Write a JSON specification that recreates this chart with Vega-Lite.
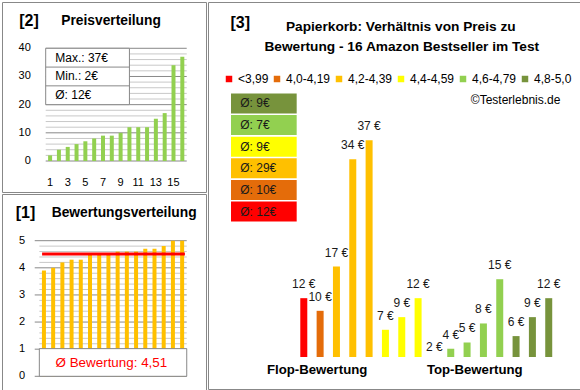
{
  "$schema": "https://vega.github.io/schema/vega-lite/v6.json",
  "padding": {"left": 1, "top": 1, "right": 1, "bottom": 1},
  "background": "white",
  "spacing": 0,
  "config": {
    "font": "Liberation Sans",
    "view": {"stroke": "#888888", "strokeWidth": 1},
    "text": {"font": "Liberation Sans", "color": "#000000"}
  },
  "datasets": {
    "products": [
      {"pos": 1, "cat": "<3,99", "price": 12, "rating": 3.9, "price_label": "12 €"},
      {"pos": 2, "cat": "4,0-4,19", "price": 10, "rating": 4.0, "price_label": "10 €"},
      {"pos": 3, "cat": "4,2-4,39", "price": 17, "rating": 4.2, "price_label": "17 €"},
      {"pos": 4, "cat": "4,2-4,39", "price": 34, "rating": 4.3, "price_label": "34 €"},
      {"pos": 5, "cat": "4,2-4,39", "price": 37, "rating": 4.3, "price_label": "37 €"},
      {"pos": 6, "cat": "4,4-4,59", "price": 7, "rating": 4.5, "price_label": "7 €"},
      {"pos": 7, "cat": "4,4-4,59", "price": 9, "rating": 4.5, "price_label": "9 €"},
      {"pos": 8, "cat": "4,4-4,59", "price": 12, "rating": 4.5, "price_label": "12 €"},
      {"pos": 9, "cat": "4,6-4,79", "price": 2, "rating": 4.6, "price_label": "2 €"},
      {"pos": 10, "cat": "4,6-4,79", "price": 4, "rating": 4.6, "price_label": "4 €"},
      {"pos": 11, "cat": "4,6-4,79", "price": 5, "rating": 4.6, "price_label": "5 €"},
      {"pos": 12, "cat": "4,6-4,79", "price": 8, "rating": 4.7, "price_label": "8 €"},
      {"pos": 13, "cat": "4,6-4,79", "price": 15, "rating": 4.7, "price_label": "15 €"},
      {"pos": 14, "cat": "4,8-5,0", "price": 6, "rating": 4.8, "price_label": "6 €"},
      {"pos": 15, "cat": "4,8-5,0", "price": 9, "rating": 5.0, "price_label": "9 €"},
      {"pos": 16, "cat": "4,8-5,0", "price": 12, "rating": 5.0, "price_label": "12 €"}
    ],
    "price_sorted": [
      {"rank": 1, "price": 2}, {"rank": 2, "price": 4}, {"rank": 3, "price": 5}, {"rank": 4, "price": 6},
      {"rank": 5, "price": 7}, {"rank": 6, "price": 8}, {"rank": 7, "price": 9}, {"rank": 8, "price": 9},
      {"rank": 9, "price": 10}, {"rank": 10, "price": 12}, {"rank": 11, "price": 12}, {"rank": 12, "price": 12},
      {"rank": 13, "price": 15}, {"rank": 14, "price": 17}, {"rank": 15, "price": 34}, {"rank": 16, "price": 37}
    ],
    "rating_sorted": [
      {"rank": 1, "rating": 3.9}, {"rank": 2, "rating": 4.0}, {"rank": 3, "rating": 4.2}, {"rank": 4, "rating": 4.3},
      {"rank": 5, "rating": 4.3}, {"rank": 6, "rating": 4.5}, {"rank": 7, "rating": 4.5}, {"rank": 8, "rating": 4.5},
      {"rank": 9, "rating": 4.6}, {"rank": 10, "rating": 4.6}, {"rank": 11, "rating": 4.6}, {"rank": 12, "rating": 4.7},
      {"rank": 13, "rating": 4.7}, {"rank": 14, "rating": 4.8}, {"rank": 15, "rating": 5.0}, {"rank": 16, "rating": 5.0}
    ],
    "grid_price": [
      {"v": 0}, {"v": 2}, {"v": 4}, {"v": 6}, {"v": 8}, {"v": 10}, {"v": 12}, {"v": 14}, {"v": 16}, {"v": 18},
      {"v": 20}, {"v": 22}, {"v": 24}, {"v": 26}, {"v": 28}, {"v": 30}, {"v": 32}, {"v": 34}, {"v": 36}, {"v": 38}, {"v": 40}
    ],
    "grid_rating": [
      {"v": 0}, {"v": 0.2}, {"v": 0.4}, {"v": 0.6}, {"v": 0.8}, {"v": 1}, {"v": 1.2}, {"v": 1.4}, {"v": 1.6}, {"v": 1.8},
      {"v": 2}, {"v": 2.2}, {"v": 2.4}, {"v": 2.6}, {"v": 2.8}, {"v": 3}, {"v": 3.2}, {"v": 3.4}, {"v": 3.6}, {"v": 3.8},
      {"v": 4}, {"v": 4.2}, {"v": 4.4}, {"v": 4.6}, {"v": 4.8}, {"v": 5}
    ],
    "cat_avg": [
      {"order": 1, "cat": "4,8-5,0", "avg_label": "Ø: 9€"},
      {"order": 2, "cat": "4,6-4,79", "avg_label": "Ø: 7€"},
      {"order": 3, "cat": "4,4-4,59", "avg_label": "Ø: 9€"},
      {"order": 4, "cat": "4,2-4,39", "avg_label": "Ø: 29€"},
      {"order": 5, "cat": "4,0-4,19", "avg_label": "Ø: 10€"},
      {"order": 6, "cat": "<3,99", "avg_label": "Ø: 12€"}
    ]
  },
  "hconcat": [
    {
      "spacing": 0,
      "vconcat": [
        {
          "width": 204,
          "height": 190,
          "layer": [
            {
              "data": {"name": "grid_price"},
              "mark": {"type": "rule", "strokeWidth": 1},
              "encoding": {
                "y": {"field": "v", "type": "quantitative", "axis": null},
                "x": {"datum": 0.5, "type": "quantitative", "axis": null},
                "x2": {"datum": 16.5},
                "color": {"condition": {"test": "datum.v % 10 === 0", "value": "#888888"}, "value": "#c8c8c8"}
              }
            },
            {
              "data": {"name": "grid_price"},
              "transform": [{"filter": "datum.v % 10 === 0"}],
              "mark": {"type": "text", "align": "right", "baseline": "middle", "fontSize": 11},
              "encoding": {
                "y": {"field": "v", "type": "quantitative", "axis": null},
                "x": {"datum": -1.193, "type": "quantitative", "axis": null},
                "text": {"field": "v", "type": "quantitative"}
              }
            },
            {
              "data": {"name": "price_sorted"},
              "mark": {"type": "bar", "width": 4, "color": "#92D050"},
              "encoding": {
                "x": {"field": "rank", "type": "quantitative",
                  "scale": {"domain": [-3.89, 18.12], "nice": false, "zero": false}, "axis": null},
                "y": {"field": "price", "type": "quantitative",
                  "scale": {"domain": [-11.0, 56.43], "nice": false, "zero": false}, "axis": null},
                "y2": {"datum": 0}
              }
            },
            {
              "data": {"name": "price_sorted"},
              "transform": [{"filter": "datum.rank % 2 === 1"}],
              "mark": {"type": "text", "align": "center", "baseline": "middle", "fontSize": 11},
              "encoding": {
                "x": {"field": "rank", "type": "quantitative", "axis": null},
                "y": {"datum": -7.71, "type": "quantitative", "axis": null},
                "text": {"field": "rank", "type": "quantitative"}
              }
            },
            {
              "data": {"values": [{}]},
              "mark": {"type": "rect", "fill": "white", "stroke": "#888888", "strokeWidth": 1},
              "encoding": {
                "x": {"datum": 0.5, "type": "quantitative", "axis": null}, "x2": {"datum": 10},
                "y": {"datum": 40, "type": "quantitative", "axis": null}, "y2": {"datum": 20}
              }
            },
            {
              "data": {"values": [{}]},
              "mark": {"type": "rule", "stroke": "#888888", "strokeWidth": 1},
              "encoding": {
                "x": {"datum": 0.5, "type": "quantitative", "axis": null}, "x2": {"datum": 10},
                "y": {"datum": 33.33, "type": "quantitative", "axis": null}
              }
            },
            {
              "data": {"values": [{}]},
              "mark": {"type": "rule", "stroke": "#888888", "strokeWidth": 1},
              "encoding": {
                "x": {"datum": 0.5, "type": "quantitative", "axis": null}, "x2": {"datum": 10},
                "y": {"datum": 26.67, "type": "quantitative", "axis": null}
              }
            },
            {
              "data": {"values": [{}]},
              "mark": {"type": "text", "align": "left", "baseline": "middle", "fontSize": 12},
              "encoding": {
                "x": {"datum": 1.58, "type": "quantitative", "axis": null},
                "y": {"datum": 36.67, "type": "quantitative", "axis": null},
                "text": {"value": "Max.: 37€"}
              }
            },
            {
              "data": {"values": [{}]},
              "mark": {"type": "text", "align": "left", "baseline": "middle", "fontSize": 12},
              "encoding": {
                "x": {"datum": 1.58, "type": "quantitative", "axis": null},
                "y": {"datum": 30, "type": "quantitative", "axis": null},
                "text": {"value": "Min.: 2€"}
              }
            },
            {
              "data": {"values": [{}]},
              "mark": {"type": "text", "align": "left", "baseline": "middle", "fontSize": 12},
              "encoding": {
                "x": {"datum": 1.58, "type": "quantitative", "axis": null},
                "y": {"datum": 23.33, "type": "quantitative", "axis": null},
                "text": {"value": "Ø: 12€"}
              }
            },
            {
              "data": {"values": [{}]},
              "mark": {"type": "text", "align": "center", "baseline": "middle", "fontSize": 16, "fontWeight": "bold"},
              "encoding": {
                "x": {"datum": -1.4, "type": "quantitative", "axis": null},
                "y": {"datum": 49.69, "type": "quantitative", "axis": null},
                "text": {"value": "[2]"}
              }
            },
            {
              "data": {"values": [{}]},
              "mark": {"type": "text", "align": "left", "baseline": "middle", "fontSize": 13.8, "fontWeight": "bold"},
              "encoding": {
                "x": {"datum": 2.26, "type": "quantitative", "axis": null},
                "y": {"datum": 49.69, "type": "quantitative", "axis": null},
                "text": {"value": "Preisverteilung"}
              }
            }
          ]
        },
        {
          "width": 204,
          "height": 197,
          "layer": [
            {
              "data": {"name": "grid_rating"},
              "transform": [{"filter": "datum.v !== round(datum.v)"}],
              "mark": {"type": "rule", "strokeWidth": 1, "stroke": "#c8c8c8"},
              "encoding": {
                "y": {"field": "v", "type": "quantitative", "axis": null},
                "x": {"datum": 0.5, "type": "quantitative", "axis": null},
                "x2": {"datum": 16.5}
              }
            },
            {
              "data": {"name": "grid_rating"},
              "transform": [{"filter": "datum.v === round(datum.v)"}],
              "mark": {"type": "rule", "strokeWidth": 1, "stroke": "#888888"},
              "encoding": {
                "y": {"field": "v", "type": "quantitative", "axis": null},
                "x": {"datum": 0, "type": "quantitative", "axis": null},
                "x2": {"datum": 16.5}
              }
            },
            {
              "data": {"name": "grid_rating"},
              "transform": [{"filter": "datum.v === round(datum.v)"}],
              "mark": {"type": "text", "align": "right", "baseline": "middle", "fontSize": 11},
              "encoding": {
                "y": {"field": "v", "type": "quantitative", "axis": null},
                "x": {"datum": -1.048, "type": "quantitative", "axis": null},
                "text": {"field": "v", "type": "quantitative"}
              }
            },
            {
              "data": {"name": "rating_sorted"},
              "mark": {"type": "bar", "width": 4, "color": "#FFC000"},
              "encoding": {
                "x": {"field": "rank", "type": "quantitative",
                  "scale": {"domain": [-3.009, 18.048], "nice": false, "zero": false}, "axis": null},
                "y": {"field": "rating", "type": "quantitative",
                  "scale": {"domain": [-0.542, 6.722], "nice": false, "zero": false}, "axis": null},
                "y2": {"datum": 0}
              }
            },
            {
              "data": {"name": "products"},
              "transform": [{"aggregate": [{"op": "mean", "field": "rating", "as": "avg_rating"}]}],
              "mark": {"type": "rule", "stroke": "#FF0000", "strokeWidth": 3},
              "encoding": {
                "y": {"field": "avg_rating", "type": "quantitative", "axis": null},
                "x": {"datum": 0.8, "type": "quantitative", "axis": null},
                "x2": {"datum": 16.3}
              }
            },
            {
              "data": {"values": [{}]},
              "mark": {"type": "rect", "fill": "white", "stroke": "#888888", "strokeWidth": 1},
              "encoding": {
                "x": {"datum": 0.5, "type": "quantitative", "axis": null}, "x2": {"datum": 16.5},
                "y": {"datum": 1.02, "type": "quantitative", "axis": null}, "y2": {"datum": 0}
              }
            },
            {
              "data": {"values": [{}]},
              "mark": {"type": "text", "align": "center", "baseline": "middle", "fontSize": 13.4, "color": "#FF0000"},
              "encoding": {
                "x": {"datum": 8.32, "type": "quantitative", "axis": null},
                "y": {"datum": 0.49, "type": "quantitative", "axis": null},
                "text": {"value": "Ø Bewertung: 4,51"}
              }
            },
            {
              "data": {"values": [{}]},
              "mark": {"type": "text", "align": "center", "baseline": "middle", "fontSize": 16, "fontWeight": "bold"},
              "encoding": {
                "x": {"datum": -1.0, "type": "quantitative", "axis": null},
                "y": {"datum": 6.02, "type": "quantitative", "axis": null},
                "text": {"value": "[1]"}
              }
            },
            {
              "data": {"values": [{}]},
              "mark": {"type": "text", "align": "left", "baseline": "middle", "fontSize": 13.8, "fontWeight": "bold"},
              "encoding": {
                "x": {"datum": 1.84, "type": "quantitative", "axis": null},
                "y": {"datum": 6.02, "type": "quantitative", "axis": null},
                "text": {"value": "Bewertungsverteilung"}
              }
            }
          ]
        }
      ]
    },
    {
      "width": 373,
      "height": 387,
      "resolve": {"scale": {"y": "independent"}},
      "layer": [
        {
          "layer": [
            {
              "data": {"name": "products"},
              "transform": [{"filter": "datum.price > 2.69"}],
              "mark": {"type": "bar", "width": 7},
              "encoding": {
                "x": {"field": "pos", "type": "quantitative",
                  "scale": {"domain": [-4.56, 17.67], "nice": false, "zero": false}, "axis": null},
                "y": {"field": "price", "type": "quantitative",
                  "scale": {"domain": [-2.37, 58.86], "nice": false, "zero": false}, "axis": null},
                "y2": {"datum": 2.69},
                "color": {"field": "cat", "type": "nominal",
                  "scale": {"domain": ["<3,99", "4,0-4,19", "4,2-4,39", "4,4-4,59", "4,6-4,79", "4,8-5,0"],
                            "range": ["#FF0000", "#E46C0A", "#FFC000", "#FFFF00", "#92D050", "#77933C"]},
                  "legend": {"orient": "none", "legendX": 221, "legendY": 71, "direction": "horizontal", "columns": 6,
                    "gridAlign": "each",
                    "title": null, "symbolType": "square", "symbolSize": 42, "symbolStrokeWidth": 0,
                    "labelFontSize": 12, "labelFont": "Liberation Sans", "labelColor": "#000000",
                    "columnPadding": 2, "labelOffset": 3, "padding": 0}}
              }
            },
            {
              "data": {"name": "products"},
              "mark": {"type": "text", "align": "center", "baseline": "middle", "dy": -14, "fontSize": 12, "color": "#1a1a1a"},
              "encoding": {
                "x": {"field": "pos", "type": "quantitative", "axis": null},
                "y": {"field": "price", "type": "quantitative", "axis": null},
                "text": {"field": "price_label"}
              }
            },
            {
              "data": {"values": [{}]},
              "mark": {"type": "text", "align": "center", "baseline": "middle", "fontSize": 16, "fontWeight": "bold"},
              "encoding": {
                "x": {"datum": -2.891, "type": "quantitative", "axis": null},
                "y": {"datum": 55.54, "type": "quantitative", "axis": null},
                "text": {"value": "[3]"}
              }
            },
            {
              "data": {"values": [{}]},
              "mark": {"type": "text", "align": "center", "baseline": "middle", "fontSize": 13.7, "fontWeight": "bold"},
              "encoding": {
                "x": {"datum": 6.94, "type": "quantitative", "axis": null},
                "y": {"datum": 54.9, "type": "quantitative", "axis": null},
                "text": {"value": "Papierkorb: Verhältnis von Preis zu"}
              }
            },
            {
              "data": {"values": [{}]},
              "mark": {"type": "text", "align": "center", "baseline": "middle", "fontSize": 13.7, "fontWeight": "bold"},
              "encoding": {
                "x": {"datum": 7.0, "type": "quantitative", "axis": null},
                "y": {"datum": 51.74, "type": "quantitative", "axis": null},
                "text": {"value": "Bewertung - 16 Amazon Bestseller im Test"}
              }
            },
            {
              "data": {"values": [{}]},
              "mark": {"type": "text", "align": "right", "baseline": "middle", "fontSize": 12},
              "encoding": {
                "x": {"datum": 16.715, "type": "quantitative", "axis": null},
                "y": {"datum": 43.35, "type": "quantitative", "axis": null},
                "text": {"value": "©Testerlebnis.de"}
              }
            },
            {
              "data": {"values": [{}]},
              "mark": {"type": "text", "align": "center", "baseline": "middle", "fontSize": 13.2, "fontWeight": "bold"},
              "encoding": {
                "x": {"datum": 1.817, "type": "quantitative", "axis": null},
                "y": {"datum": 0.63, "type": "quantitative", "axis": null},
                "text": {"value": "Flop-Bewertung"}
              }
            },
            {
              "data": {"values": [{}]},
              "mark": {"type": "text", "align": "center", "baseline": "middle", "fontSize": 13.2, "fontWeight": "bold"},
              "encoding": {
                "x": {"datum": 11.47, "type": "quantitative", "axis": null},
                "y": {"datum": 0.63, "type": "quantitative", "axis": null},
                "text": {"value": "Top-Bewertung"}
              }
            }
          ]
        },
        {
          "data": {"name": "cat_avg"},
          "layer": [
            {
              "mark": {"type": "bar", "orient": "horizontal", "height": 20},
              "encoding": {
                "y": {"field": "order", "type": "quantitative", "axis": null,
                  "scale": {"domain": [-3.459, 13.973], "reverse": true, "nice": false, "zero": false}},
                "x": {"datum": -3.457, "type": "quantitative", "axis": null},
                "x2": {"datum": 0.565},
                "color": {"field": "cat", "type": "nominal", "legend": null}
              }
            },
            {
              "mark": {"type": "text", "align": "left", "baseline": "middle", "fontSize": 12, "color": "#1a1a1a"},
              "encoding": {
                "y": {"field": "order", "type": "quantitative", "axis": null},
                "x": {"datum": -2.891, "type": "quantitative", "axis": null},
                "text": {"field": "avg_label"}
              }
            }
          ]
        }
      ]
    }
  ]
}
